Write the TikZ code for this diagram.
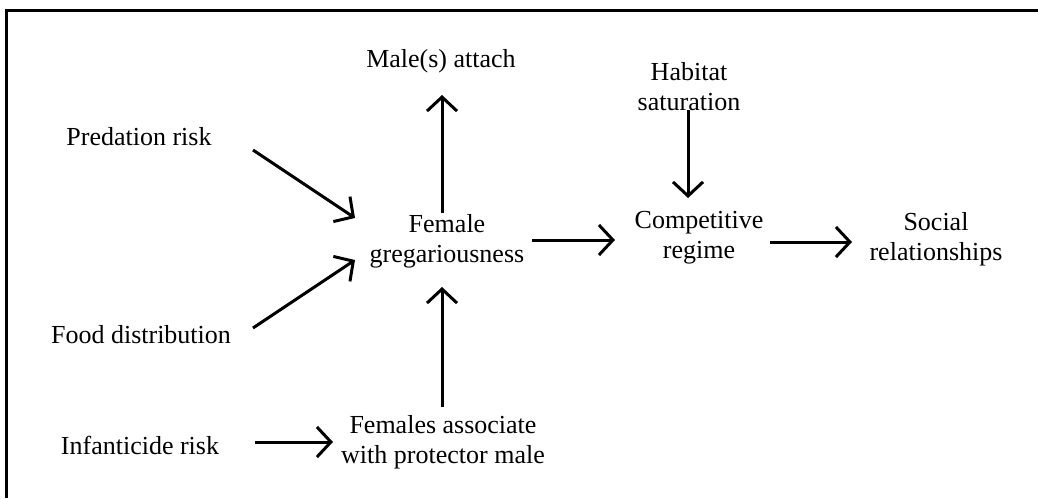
\documentclass[tikz,border=0pt]{standalone}
\usepackage{fontspec}
\setmainfont{Liberation Serif}
\usetikzlibrary{arrows.meta}
\begin{document}
\begin{tikzpicture}[x=1pt,y=-1pt,
  lbl/.style={align=center,inner sep=0pt,font=\fontsize{26}{30}\selectfont},
  arr/.style={line width=3pt,-{Straight Barb[length=14pt,width=30pt,line width=3pt]}}]
\useasboundingbox (0,0) rectangle (1038,498);
\draw[line width=3pt] (6,498) -- (6,10) -- (1040,10);
\node[lbl] (male) at (441,61) {Male(s) attach};
\node[lbl] (hab) at (689,87) {Habitat\\saturation};
\node[lbl] (pred) at (139,137) {Predation risk};
\node[lbl] (fg) at (447,241) {Female\\gregariousness};
\node[lbl] (cr) at (699,238) {Competitive\\regime};
\node[lbl] (sr) at (936,239) {Social\\relationships};
\node[lbl] (food) at (141,335) {Food distribution};
\node[lbl] (inf) at (140,445) {Infanticide risk};
\node[lbl] (fa) at (443,442) {Females associate\\with protector male};
\draw[arr] ([shift={(114,13)}]pred.center) -- ([shift={(-92,-23)}]fg.center);
\draw[arr] ([shift={(112,-7)}]food.center) -- ([shift={(-92,19)}]fg.center);
\draw[arr] ([shift={(-5,-28)}]fg.center) -- ([shift={(1,34)}]male.center);
\draw[arr] ([shift={(85,-1)}]fg.center) -- ([shift={(-84,2)}]cr.center);
\draw[arr] ([shift={(71,4)}]cr.center) -- ([shift={(-84,3)}]sr.center);
\draw[arr] ([shift={(-1,23)}]hab.center) -- ([shift={(-11,-40)}]cr.center);
\draw[arr] ([shift={(115,-3)}]inf.center) -- ([shift={(-110,0)}]fa.center);
\draw[arr] ([shift={(-1,-35)}]fa.center) -- ([shift={(-5,46)}]fg.center);
\end{tikzpicture}
\end{document}
